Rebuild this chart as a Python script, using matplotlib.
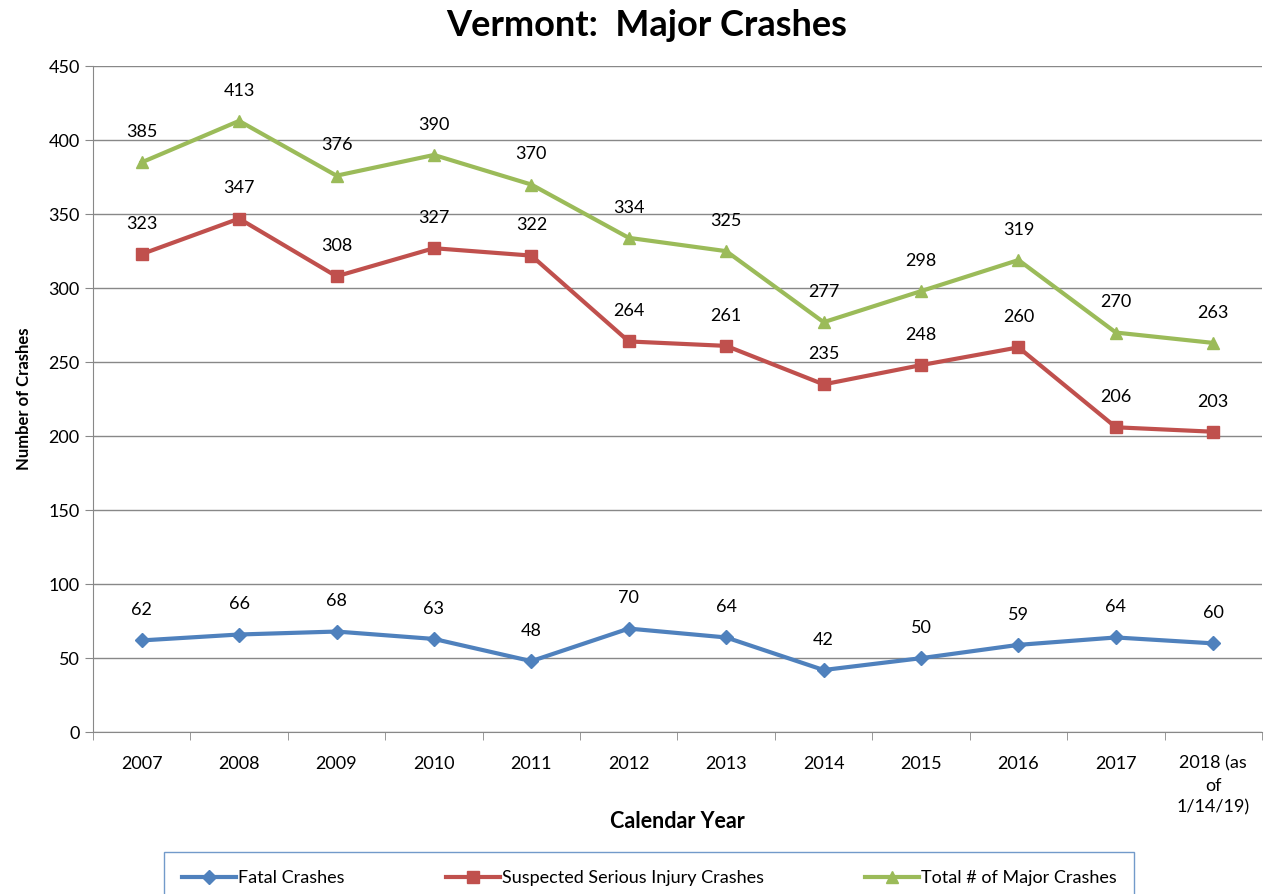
import matplotlib.pyplot as plt
from matplotlib.lines import Line2D

plt.rcParams['font.family'] = ['Lato', 'DejaVu Sans']

years = ['2007', '2008', '2009', '2010', '2011', '2012', '2013', '2014',
         '2015', '2016', '2017', '2018 (as\nof\n1/14/19)']
fatal = [62, 66, 68, 63, 48, 70, 64, 42, 50, 59, 64, 60]
serious = [323, 347, 308, 327, 322, 264, 261, 235, 248, 260, 206, 203]
total = [385, 413, 376, 390, 370, 334, 325, 277, 298, 319, 270, 263]

series = [
    ('Fatal Crashes', fatal, '#4F81BD', 'D', 7),
    ('Suspected Serious Injury Crashes', serious, '#C0504D', 's', 8),
    ('Total # of Major Crashes', total, '#9BBB59', '^', 9),
]

fig = plt.figure(figsize=(12.68, 8.94), dpi=100)
ax = fig.add_axes([0.0733, 0.181, 0.922, 0.745])

x = list(range(len(years)))
for name, vals, color, marker, ms in series:
    ax.plot(x, vals, color=color, lw=3, marker=marker, markersize=ms, label=name)
    for xi, v in zip(x, vals):
        ax.annotate(str(v), (xi, v), xytext=(0, 16), textcoords='offset points',
                    ha='center', va='bottom', fontsize=13)

ax.set_xlim(-0.5, len(years) - 0.5)
ax.set_ylim(0, 450)
ax.set_yticks(range(0, 451, 50))
ax.set_xticks(x)
ax.set_xticklabels(years, fontsize=13, va='top', linespacing=1.45)
ax.set_xticks([i - 0.5 for i in range(len(years) + 1)], minor=True)
ax.tick_params(axis='x', which='major', length=0, pad=17)
ax.tick_params(axis='x', which='minor', length=6, color='#888888')
ax.tick_params(axis='y', labelsize=13, length=6, color='#888888')
ax.yaxis.grid(True, color='#888888', lw=1)
ax.set_axisbelow(True)
for s in ['top', 'right']:
    ax.spines[s].set_visible(False)
ax.spines['left'].set_color('#888888')
ax.spines['bottom'].set_color('#888888')

ax.set_ylabel('Number of Crashes', fontsize=12, fontweight='bold', labelpad=12)
ax.set_xlabel('Calendar Year', fontsize=15.5, fontweight='bold')
ax.xaxis.set_label_coords(0.5, -0.118)

fig.suptitle('Vermont:  Major Crashes', fontsize=26, fontweight='bold', y=0.99, x=0.51)

handles = [Line2D([0], [0], color=c, lw=3, marker=m, markersize=ms) for _, _, c, m, ms in series]
leg = fig.legend(handles, [s[0] for s in series], loc='upper center',
                 bbox_to_anchor=(0.512, 0.047), ncol=3, fontsize=13, frameon=True,
                 fancybox=False, edgecolor='#4F81BD', handlelength=3, handletextpad=0.1,
                 columnspacing=5.6, borderpad=1.0, borderaxespad=0)
leg.get_frame().set_linewidth(1)

fig.savefig('out.png', dpi=100)
